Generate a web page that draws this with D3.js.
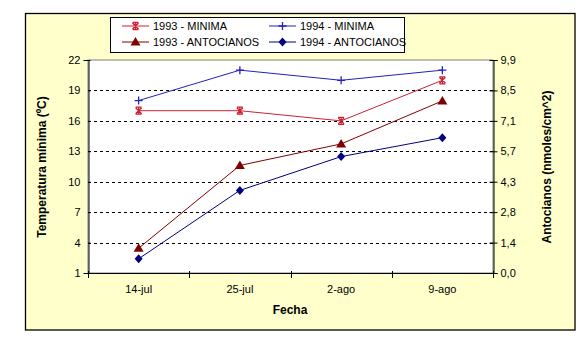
<!DOCTYPE html>
<html><head><meta charset="utf-8">
<script src="https://cdn.jsdelivr.net/npm/d3@7"></script>
<style>body{margin:0;background:#fff}svg{display:block;font-family:"Liberation Sans",Arial,sans-serif}</style>
</head><body><svg id="c" width="585" height="344"></svg>
<script>
const categories = ["14-jul","25-jul","2-ago","9-ago"];
const min1993 = [17,17,16,20];
const min1994 = [18,21,20,21];
const ant1993 = [1.15,5.0,6.0,8.0];
const ant1994 = [0.66,3.84,5.41,6.29];
const leftTicks = [1,4,7,10,13,16,19,22];
const rightTicks = [0,1.414,2.829,4.243,5.657,7.071,8.486,9.9];
const rightTickLabels = ["0,0","1,4","2,8","4,3","5,7","7,1","8,5","9,9"];

const svg = d3.select("#c");
const L=88,R=493,T=60,B=273;
svg.append("rect").attr("x",25.5).attr("y",13.5).attr("width",549.5).attr("height",316.5)
  .attr("fill","#FFFFCC").attr("stroke","#000").attr("stroke-width",1.3);
svg.append("rect").attr("x",L).attr("y",T).attr("width",R-L).attr("height",B-T).attr("fill","#fff").attr("stroke","#808080");

const x = d3.scaleBand().domain(categories).range([L,R]);
const yL = d3.scaleLinear().domain([1,22]).range([B,T]);
const yR = d3.scaleLinear().domain([0,9.9]).range([B,T]);

// grid
svg.append("g").selectAll("line").data(leftTicks.slice(1,-1)).join("line")
  .attr("x1",L).attr("x2",R).attr("y1",d=>Math.round(yL(d))+0.5).attr("y2",d=>Math.round(yL(d))+0.5)
  .attr("stroke","#000").attr("stroke-dasharray","3,3");

const gl = svg.append("g").attr("transform",`translate(${L+0.5},0)`)
  .call(d3.axisLeft(yL).tickValues(leftTicks).tickSize(5).tickPadding(3));
const gr = svg.append("g").attr("transform",`translate(${R+0.5},0)`)
  .call(d3.axisRight(yR).tickValues(rightTicks).tickFormat((d,i)=>rightTickLabels[i]).tickSize(4).tickPadding(3));
gr.selectAll(".tick line").attr("x1",-4);
gl.selectAll(".tick line").attr("x2",2);
const gx = svg.append("g").attr("transform",`translate(0,${B+0.5})`)
  .call(d3.axisBottom(x).tickSize(0).tickPadding(12));
gx.selectAll(".tick text").attr("dy","0.71em");
// boundary ticks
svg.append("g").selectAll("line").data(d3.range(categories.length+1)).join("line")
  .attr("x1",i=>Math.round(L+i*x.step())+0.5).attr("x2",i=>Math.round(L+i*x.step())+0.5)
  .attr("y1",B-2).attr("y2",B+5).attr("stroke","#000");
[gl,gr,gx].forEach(g=>{g.selectAll("path").attr("stroke","#000");g.selectAll(".tick line").attr("stroke","#000");
  g.selectAll("text").attr("font-size",11).attr("fill","#000").attr("font-family","Liberation Sans, Arial, sans-serif");});
gx.select(".domain").attr("d",`M${L},0H${R}`);

const cx = d=>x(d)+x.bandwidth()/2;
const series = [
 {name:"1993 - MINIMA",vals:min1993,y:yL,color:"#CC2233",marker:"star"},
 {name:"1994 - MINIMA",vals:min1994,y:yL,color:"#2222BB",marker:"plus"},
 {name:"1993 - ANTOCIANOS",vals:ant1993,y:yR,color:"#800000",marker:"tri"},
 {name:"1994 - ANTOCIANOS",vals:ant1994,y:yR,color:"#000080",marker:"dia"}
];
function drawMarker(g,type,color){
  if(type==="star"){
    g.append("path").attr("d","M-3,-3L3,3M3,-3L-3,3M-3,-3.5H3M-3,3.5H3M0,-3V3").attr("stroke",color).attr("stroke-width",1.3).attr("fill","none");
  } else if(type==="plus"){
    g.append("path").attr("d","M-4,0H4M0,-4V4").attr("stroke",color).attr("stroke-width",1.3);
  } else if(type==="tri"){
    g.append("path").attr("d","M0,-5L5,3.5H-5Z").attr("fill",color);
  } else {
    g.append("path").attr("d","M0,-4.5L4,0L0,4.5L-4,0Z").attr("fill",color);
  }
}
const line = d3.line();
series.forEach(s=>{
  const pts = categories.map((c,i)=>[cx(c),s.y(s.vals[i])]);
  svg.append("path").attr("d",line(pts)).attr("fill","none").attr("stroke",s.color).attr("stroke-width",1);
  pts.forEach(p=>drawMarker(svg.append("g").attr("transform",`translate(${p[0]},${p[1]})`),s.marker,s.color));
});

// legend
const lg = svg.append("g");
lg.append("rect").attr("x",110.5).attr("y",17.5).attr("width",294).attr("height",35).attr("fill","#fff").attr("stroke","#000");
series.forEach((s,i)=>{
  const col=i%2,row=Math.floor(i/2);
  const lx = 122+col*147, ly = 26+row*16;
  lg.append("line").attr("x1",lx).attr("x2",lx+27).attr("y1",ly).attr("y2",ly).attr("stroke",s.color);
  drawMarker(lg.append("g").attr("transform",`translate(${lx+13.5},${ly})`),s.marker,s.color);
  lg.append("text").attr("x",lx+31).attr("y",ly).attr("dy","0.35em").attr("font-size",11).text(s.name);
});

svg.append("text").attr("x",290).attr("y",314).attr("text-anchor","middle").attr("font-weight","bold").attr("font-size",12).text("Fecha");
svg.append("text").attr("transform","translate(46,167) rotate(-90)").attr("text-anchor","middle").attr("font-weight","bold").attr("font-size",12).text("Temperatura mínima (ºC)");
svg.append("text").attr("transform","translate(551,167) rotate(-90)").attr("text-anchor","middle").attr("font-weight","bold").attr("font-size",12).text("Antocianos (nmoles/cm^2)");
</script></body></html>
